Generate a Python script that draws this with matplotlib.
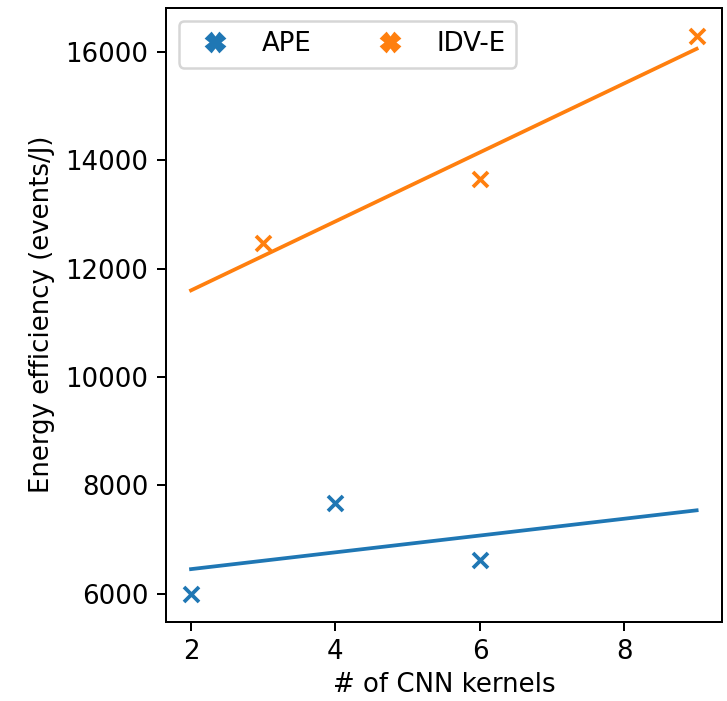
import matplotlib
matplotlib.use("Agg")
import matplotlib.pyplot as plt
from matplotlib.lines import Line2D
import numpy as np

# Data
ape_kernels = [2, 4, 6]
ape_eff = [6000, 7680, 6620]

idv_kernels = [3, 6, 9]
idv_eff = [12480, 13660, 16300]

fit_x = np.array([2, 9])  # the fit lines span the whole kernel range

plt.rcParams["font.size"] = 10.4

fig = plt.figure(figsize=(727 / 180, 701 / 180), dpi=180)
ax = fig.add_axes([0.228, 0.113, 0.765, 0.876])

c_ape, c_idv = "tab:blue", "tab:orange"

ax.scatter(ape_kernels, ape_eff, marker="x", color=c_ape)
ax.scatter(idv_kernels, idv_eff, marker="x", color=c_idv)

# least-squares trend lines
p_ape = np.polyfit(ape_kernels, ape_eff, 1)
p_idv = np.polyfit(idv_kernels, idv_eff, 1)
ax.plot(fit_x, np.polyval(p_ape, fit_x), color=c_ape)
ax.plot(fit_x, np.polyval(p_idv, fit_x), color=c_idv)

ax.set_xlabel("# of CNN kernels", labelpad=2.5)
ax.set_ylabel("Energy efficiency (events/J)")
ax.set_xticks([2, 4, 6, 8])
ax.set_yticks([6000, 8000, 10000, 12000, 14000, 16000])

handles = [
    Line2D([], [], marker="X", linestyle="none", color=c_ape, markersize=7),
    Line2D([], [], marker="X", linestyle="none", color=c_idv, markersize=7),
]
ax.legend(handles, ["APE", "IDV-E"], loc="upper left", ncol=2)

fig.savefig("out.png", dpi=180)
